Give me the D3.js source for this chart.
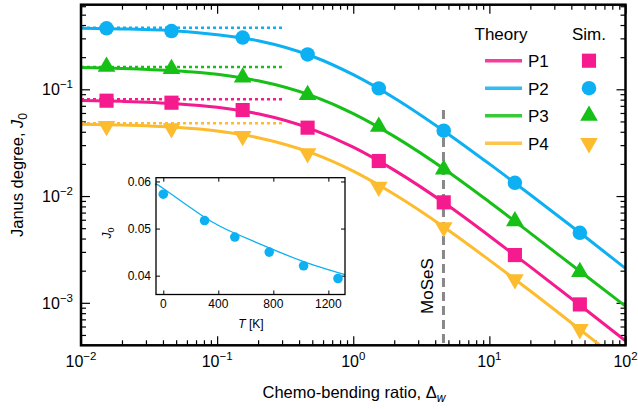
<!DOCTYPE html>
<html>
<head>
<meta charset="utf-8">
<script src="https://cdn.jsdelivr.net/npm/d3@7"></script>
<style>
  body { margin: 0; background: #fff; }
  svg { font-family: 'Liberation Sans', Arial, sans-serif; }
</style>
</head>
<body>
<div id="chart"></div>
<script>
// simulation points
const deltaSim = [0.0154, 0.0462, 0.154, 0.462, 1.54, 4.62, 15.4, 46.2]
const simP1 = [0.0782, 0.0749, 0.0639, 0.0437, 0.0213, 0.00873, 0.0028, 0.000966]
const simP2 = [0.373, 0.351, 0.305, 0.212, 0.102, 0.0409, 0.0133, 0.00453]
const simP3 = [0.163, 0.155, 0.129, 0.0885, 0.0446, 0.0178, 0.00583, 0.00195]
const simP4 = [0.0453, 0.0431, 0.0365, 0.0251, 0.0122, 0.00509, 0.00166, 0.000566]

// theory curves
const deltaTheory = [0.01, 0.02, 0.05, 0.1, 0.2, 0.5, 1, 2, 5, 10, 20, 50, 100]
const theoryP1 = [0.0786, 0.0771, 0.0733, 0.0678, 0.0589, 0.0422, 0.0287, 0.0175, 0.0081, 0.00423, 0.00217, 0.00088, 0.00044]
const theoryP2 = [0.374, 0.368, 0.352, 0.325, 0.285, 0.204, 0.137, 0.083, 0.038, 0.0200, 0.0103, 0.0042, 0.0021]
const theoryP3 = [0.160, 0.157, 0.149, 0.138, 0.120, 0.0867, 0.0592, 0.0362, 0.0168, 0.0088, 0.0045, 0.00183, 0.00093]
const theoryP4 = [0.0471, 0.0463, 0.044, 0.0406, 0.0352, 0.0252, 0.0171, 0.0104, 0.00479, 0.00251, 0.00129, 0.00052, 0.00026]

// dotted plateau levels
const plateau = [0.0806, 0.377, 0.162, 0.048]
const plateauRange = [0.01, 0.3]

const seriesNames = ['P1', 'P2', 'P3', 'P4']
const colors = ['#f51b8e', '#0db0f2', '#16c016', '#fdbb2e']
const moses = 4.6

// inset: J0 vs temperature
const insetT = [0, 300, 520, 770, 1020, 1270]
const insetJ = [0.0573, 0.0517, 0.0482, 0.045, 0.0421, 0.0394]
const insetLineT = [-53, 0, 300, 520, 770, 1020, 1321]
const insetLineJ = [0.0592, 0.0585, 0.0524, 0.049, 0.0459, 0.043, 0.0402]

const xMajor = [0.01, 0.1, 1, 10, 100]
const yMajor = [0.001, 0.01, 0.1]

let width = 638
let height = 409
let margin = { top: 4.7, left: 81, right: 12.5, bottom: 63.7 }

let svg = d3
  .select('#chart')
  .append('svg')
  .attr('width', width)
  .attr('height', height)

let x = d3.scaleLog().domain([0.01, 100]).range([margin.left, width - margin.right])
let y = d3.scaleLog().domain([0.0004, 0.62]).range([height - margin.bottom, margin.top])

let minorOf = (lo, hi) => {
  let out = []
  for (let e = -5; e <= 3; e++) {
    for (let k = 2; k <= 9; k++) {
      let v = k * Math.pow(10, e)
      if (v > lo && v < hi) out.push(+v.toPrecision(3))
    }
  }
  return out
}
let xMinor = minorOf(0.01, 100)
let yMinor = minorOf(0.0004, 0.62)

svg.append('defs')
  .append('clipPath')
  .attr('id', 'plot-clip')
  .append('rect')
  .attr('x', margin.left)
  .attr('y', margin.top)
  .attr('width', width - margin.left - margin.right)
  .attr('height', height - margin.top - margin.bottom)

// ticks on all four sides, pointing inward
let tickGroup = svg.append('g').attr('class', 'ticks')
let addAxis = (axisFn, scale, values, size, transform) => {
  tickGroup.append('g')
    .attr('transform', transform)
    .call(axisFn(scale).tickValues(values).tickSize(-size).tickFormat(''))
    .call(g => g.select('.domain').remove())
    .call(g => g.selectAll('line').attr('stroke', '#000').attr('stroke-width', 1.2))
}
let bottomY = height - margin.bottom
let rightX = width - margin.right
addAxis(d3.axisBottom, x, xMajor, 9, `translate(0,${bottomY})`)
addAxis(d3.axisBottom, x, xMinor, 5, `translate(0,${bottomY})`)
addAxis(d3.axisTop, x, xMajor, 9, `translate(0,${margin.top})`)
addAxis(d3.axisTop, x, xMinor, 5, `translate(0,${margin.top})`)
addAxis(d3.axisLeft, y, yMajor, 9, `translate(${margin.left},0)`)
addAxis(d3.axisLeft, y, yMinor, 5, `translate(${margin.left},0)`)
addAxis(d3.axisRight, y, yMajor, 9, `translate(${rightX},0)`)
addAxis(d3.axisRight, y, yMinor, 5, `translate(${rightX},0)`)

// tick labels as 10^n
let powerLabel = (sel, v) => {
  let e = Math.round(Math.log10(v))
  sel.append('tspan').text('10')
  sel.append('tspan')
    .attr('font-size', 11.5)
    .attr('dy', -7)
    .text(e < 0 ? '\u2212' + Math.abs(e) : e)
}

svg.selectAll('.x-label')
  .data(xMajor)
  .enter()
  .append('text')
  .attr('class', 'x-label')
  .attr('x', d => x(d))
  .attr('y', 367)
  .attr('text-anchor', 'middle')
  .attr('font-size', 16)
  .each(function (d) { powerLabel(d3.select(this), d) })

svg.selectAll('.y-label')
  .data(yMajor)
  .enter()
  .append('text')
  .attr('class', 'y-label')
  .attr('x', margin.left - 8)
  .attr('y', d => y(d) + 6)
  .attr('text-anchor', 'end')
  .attr('font-size', 16)
  .each(function (d) { powerLabel(d3.select(this), d) })

// axis titles
let xTitle = svg.append('text')
  .attr('x', 354)
  .attr('y', 398)
  .attr('text-anchor', 'middle')
  .attr('font-size', 16.5)
xTitle.append('tspan').text('Chemo-bending ratio, \u0394')
xTitle.append('tspan').attr('font-style', 'italic').attr('font-size', 12).attr('dy', 4).text('w')

let yTitle = svg.append('text')
  .attr('transform', `translate(23,175) rotate(-90)`)
  .attr('text-anchor', 'middle')
  .attr('font-size', 16.5)
yTitle.append('tspan').text('Janus degree, ')
yTitle.append('tspan').attr('font-style', 'italic').text('J')
yTitle.append('tspan').attr('font-size', 12).attr('dy', 4).text('0')

let plot = svg.append('g').attr('clip-path', 'url(#plot-clip)')

// MoSeS marker line
plot.append('line')
  .attr('x1', x(moses))
  .attr('x2', x(moses))
  .attr('y1', y(0.064))
  .attr('y2', bottomY)
  .attr('stroke', '#888')
  .attr('stroke-width', 3)
  .attr('stroke-dasharray', '9,5')

svg.append('text')
  .attr('transform', `translate(433,286) rotate(-90)`)
  .attr('text-anchor', 'middle')
  .attr('font-size', 17)
  .text('MoSeS')

// dotted plateau lines
plot.selectAll('.plateau')
  .data(plateau)
  .enter()
  .append('line')
  .attr('class', 'plateau')
  .attr('x1', x(plateauRange[0]))
  .attr('x2', x(plateauRange[1]))
  .attr('y1', d => y(d))
  .attr('y2', d => y(d))
  .attr('stroke', (d, i) => colors[i])
  .attr('stroke-width', 2.5)
  .attr('stroke-dasharray', '3,3')

let theories = [theoryP1, theoryP2, theoryP3, theoryP4]
let sims = [simP1, simP2, simP3, simP4]

let line = d3.line()
  .x(d => x(d[0]))
  .y(d => y(d[1]))
  .curve(d3.curveMonotoneX)

plot.selectAll('.theory')
  .data(theories)
  .enter()
  .append('path')
  .attr('class', 'theory')
  .attr('d', d => line(d.map((v, i) => [deltaTheory[i], v])))
  .attr('fill', 'none')
  .attr('stroke', (d, i) => colors[i])
  .attr('stroke-width', 3)

let symbols = [
  d3.symbol().type(d3.symbolSquare).size(200),
  d3.symbol().type(d3.symbolCircle).size(165),
  d3.symbol().type(d3.symbolTriangle).size(135),
  d3.symbol().type(d3.symbolTriangle).size(135)
]
let rot = [0, 0, 0, 180]

sims.forEach((vals, s) => {
  svg.append('g')
    .selectAll('.sim')
    .data(vals)
    .enter()
    .append('path')
    .attr('class', 'sim')
    .attr('d', symbols[s]())
    .attr('transform', (d, i) => `translate(${x(deltaSim[i])},${y(d)}) rotate(${rot[s]})`)
    .attr('fill', colors[s])
})

// legend
svg.append('text').attr('x', 501).attr('y', 40).attr('text-anchor', 'middle').attr('font-size', 17).text('Theory')
svg.append('text').attr('x', 589).attr('y', 40).attr('text-anchor', 'middle').attr('font-size', 17).text('Sim.')

let legend = svg.selectAll('.legend')
  .data(seriesNames)
  .enter()
  .append('g')
  .attr('class', 'legend')
  .attr('transform', (d, i) => `translate(0,${60.7 + i * 27.5})`)

legend.append('line')
  .attr('x1', 485)
  .attr('x2', 522)
  .attr('stroke', (d, i) => colors[i])
  .attr('stroke-opacity', 0.85)
  .attr('stroke-width', 3.5)

legend.append('text')
  .attr('x', 528)
  .attr('y', 6.5)
  .attr('font-size', 17)
  .text(d => d)

legend.append('path')
  .attr('d', (d, i) => symbols[i]())
  .attr('transform', (d, i) => `translate(589,0) rotate(${rot[i]})`)
  .attr('fill', (d, i) => colors[i])

// frame
svg.append('rect')
  .attr('x', margin.left)
  .attr('y', margin.top)
  .attr('width', width - margin.left - margin.right)
  .attr('height', height - margin.top - margin.bottom)
  .attr('fill', 'none')
  .attr('stroke', '#000')
  .attr('stroke-width', 2.5)

// ---- inset ----
let ix = d3.scaleLinear().domain([-53, 1321]).range([156, 345])
let iy = d3.scaleLinear().domain([0.036, 0.0608]).range([294.5, 177.7])

let inset = svg.append('g').attr('class', 'inset')

inset.append('rect')
  .attr('x', 156)
  .attr('y', 177.7)
  .attr('width', 189)
  .attr('height', 116.8)
  .attr('fill', '#fff')

let insetTicks = [0, 400, 800, 1200]
let insetYTicks = [0.04, 0.05, 0.06]
let insetAxis = (axisFn, scale, values, transform) => {
  inset.append('g')
    .attr('transform', transform)
    .call(axisFn(scale).tickValues(values).tickSize(-4).tickFormat(''))
    .call(g => g.select('.domain').remove())
    .call(g => g.selectAll('line').attr('stroke', '#000'))
}
insetAxis(d3.axisBottom, ix, insetTicks, 'translate(0,294.5)')
insetAxis(d3.axisTop, ix, insetTicks, 'translate(0,177.7)')
insetAxis(d3.axisLeft, iy, insetYTicks, 'translate(156,0)')
insetAxis(d3.axisRight, iy, insetYTicks, 'translate(345,0)')

inset.selectAll('.ix-label')
  .data(insetTicks)
  .enter()
  .append('text')
  .attr('x', d => ix(d))
  .attr('y', 308)
  .attr('text-anchor', 'middle')
  .attr('font-size', 12)
  .text(d => d)

inset.selectAll('.iy-label')
  .data(insetYTicks)
  .enter()
  .append('text')
  .attr('x', 151)
  .attr('y', d => iy(d) + 4.5)
  .attr('text-anchor', 'end')
  .attr('font-size', 12)
  .text(d => d.toFixed(2))

let tLabel = inset.append('text')
  .attr('x', 251)
  .attr('y', 328)
  .attr('text-anchor', 'middle')
  .attr('font-size', 12)
tLabel.append('tspan').attr('font-style', 'italic').text('T')
tLabel.append('tspan').text(' [K]')

let jLabel = inset.append('text')
  .attr('transform', 'translate(111,233) rotate(-90)')
  .attr('text-anchor', 'middle')
  .attr('font-size', 12)
jLabel.append('tspan').attr('font-style', 'italic').text('J')
jLabel.append('tspan').attr('font-size', 9).attr('dy', 3).text('0')

let insetLine = d3.line()
  .x(d => ix(d[0]))
  .y(d => iy(d[1]))
  .curve(d3.curveNatural)

inset.append('path')
  .attr('d', insetLine(insetLineT.map((t, i) => [t, insetLineJ[i]])))
  .attr('fill', 'none')
  .attr('stroke', colors[1])
  .attr('stroke-width', 1.3)

inset.selectAll('.inset-dot')
  .data(insetJ)
  .enter()
  .append('circle')
  .attr('cx', (d, i) => ix(insetT[i]))
  .attr('cy', d => iy(d))
  .attr('r', 4.8)
  .attr('fill', colors[1])

inset.append('rect')
  .attr('x', 156)
  .attr('y', 177.7)
  .attr('width', 189)
  .attr('height', 116.8)
  .attr('fill', 'none')
  .attr('stroke', '#000')
  .attr('stroke-width', 1.3)
</script>
</body>
</html>
